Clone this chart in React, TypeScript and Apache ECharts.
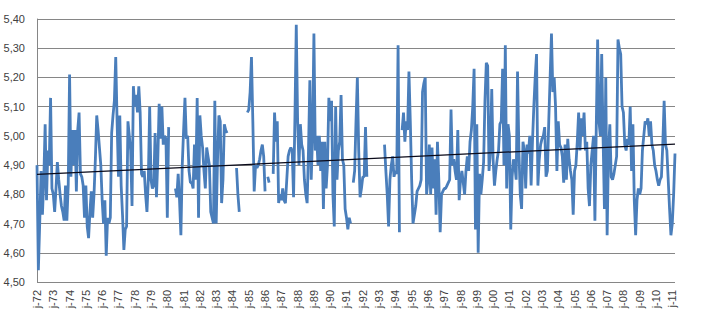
import React, { useEffect, useRef } from "react";
import * as echarts from "echarts";

const years = [72, 73, 74, 75, 76, 77, 78, 79, 80, 81, 82, 83, 84, 85, 86, 87, 88, 89, 90, 91, 92, 93, 94, 95, 96, 97, 98, 99, 0, 1, 2, 3, 4, 5, 6, 7, 8, 9, 10, 11];
const monthLetters = ["j", "f", "m", "a", "m", "j", "j", "a", "s", "o", "n", "d"];

// Monthly values, Jan 1972 - Mar 2011 (null = missing)
const values1972to1979 = [
  4.90, 4.54, 4.70, 4.88, 4.73, 4.85, 5.04, 4.78, 4.95, 4.90, 5.13, 4.82,
  4.80, 4.74, 4.82, 4.91, 4.85, 4.80, 4.76, 4.74, 4.71, 4.83, 4.71, 4.83,
  5.21, 4.86, 5.02, 4.90, 5.02, 4.81, 5.02, 5.08, 4.87, 4.86, 4.83, 4.72,
  4.83, 4.69, 4.65, 4.74, 4.81, 4.72, 4.80, 4.92, 5.07, 5.02, 4.96, 4.90,
  4.78, 4.70, 4.78, 4.59, 4.72, 4.70, 4.72, 5.01, 5.07, 5.12, 5.27, 5.05,
  4.86, 5.07, 4.83, 4.73, 4.61, 4.68, 4.69, 5.05, 5.00, 4.95, 4.76, 5.17,
  5.10, 5.14, 5.08, 5.17, 5.08, 4.87, 4.86, 4.88, 4.80, 4.74, 4.85, 5.10,
  4.85, 4.82, 4.83, 5.01, 4.79, 4.92, 5.11, 4.99, 5.10, 4.97, 5.00, 4.99,
];
const values1980to1989 = [
  4.72, 5.03, null, null, null, null, 4.82, 4.79, 4.87, 4.78, 4.66, 4.90,
  5.02, 5.13, 4.99, 5.00, 4.88, 4.84, 4.84, 4.82, 4.97, 4.85, 5.13, 4.72,
  5.07, 5.00, 4.96, 4.88, 4.82, 4.96, 4.93, 4.90, 4.74, 4.72, 4.70, 5.12,
  4.70, 4.92, 5.07, 5.05, 4.77, 4.85, 5.04, 5.02, 5.01, null, null, null,
  null, null, null, 4.89, 4.80, 4.74, null, null, null, null, null, 5.08,
  5.09, 5.15, 5.27, 5.05, 4.81, 4.90, 4.89, 4.90, 4.92, 4.95, 4.97, 4.93,
  4.81, null, 4.86, 4.84, null, null, 4.87, 5.08, 4.98, 5.05, 4.77, 4.80,
  4.78, 4.82, 4.78, 4.77, 4.85, 4.93, 4.95, 4.96, 4.95, 4.79, 5.06, 5.38,
  5.05, 4.90, 5.04, 4.97, 4.95, 4.85, 4.80, 4.77, 4.95, 5.19, 4.85, 5.00,
  5.35, 4.95, 5.00, 4.90, 5.00, 4.88, 4.98, 4.75, 4.98, 4.82, 4.90, 5.13,
];
const values1990to1999 = [
  5.05, 5.12, 4.80, 4.69, 5.10, 4.85, 4.95, 4.98, 5.14, 4.92, 4.90, 4.75,
  4.72, 4.68, 4.72, 4.70, null, 4.84, 4.88, 5.05, 5.20, 4.95, 4.79, 4.82,
  4.86, 4.86, 5.03, 4.86, null, null, null, null, null, null, null, null,
  null, null, null, null, 4.97, 4.88, 4.80, 4.69, 4.85, 4.90, 4.93, 4.86,
  4.88, 4.87, 5.31, 4.67, null, 5.02, 5.08, 4.98, 5.05, 5.02, 5.22, 5.05,
  4.85, 4.70, 4.73, 4.76, 4.81, 4.82, 4.83, 4.85, 5.15, 5.18, 5.20, 4.80,
  4.85, 4.97, 4.80, 4.96, 4.82, 4.92, 4.73, 4.98, 4.85, 4.67, 4.80, 4.81,
  4.82, 4.82, 4.83, 4.84, 4.85, 5.09, 4.90, 4.92, 4.88, 4.85, 5.02, 4.78,
  4.85, 4.88, 4.84, 4.80, 4.88, 4.93, 4.88, 4.98, 5.02, 5.10, 5.23, 4.68,
  5.04, 4.60, 4.87, 4.80, 4.85, 4.91, 5.12, 5.25, 5.24, 4.88, 4.95, 5.16,
];
const values2000to2011 = [
  4.92, 4.83, 4.88, 4.92, 4.95, 5.04, 5.05, 5.23, 4.90, 5.31, 4.82, 5.04,
  5.00, 4.68, 4.86, 4.92, 4.90, 4.85, 5.22, 4.95, 4.80, 4.75, 4.98, 4.95,
  4.82, 4.97, 4.94, 5.00, 4.83, 4.98, 5.10, 5.20, 5.28, 4.83, 4.92, 4.97,
  4.99, 5.00, 5.03, 4.86, 4.88, 5.05, 5.20, 5.35, 5.15, 5.20, 5.10, 4.88,
  5.05, 4.97, 4.96, 4.93, 4.84, 4.97, 4.85, 4.99, 4.92, 4.88, 4.85, 4.73,
  4.88, 4.90, 4.98, 5.08, 4.95, 5.06, 5.00, 5.08, 4.95, 4.98, 4.82, 4.76,
  4.90, 4.95, 5.00, 4.71, 5.03, 5.33, 5.05, 5.00, 5.28, 5.00, 4.75, 5.20,
  4.66, 4.95, 5.04, 4.86, 4.85, 4.87, 4.90, 4.93, 5.33, 5.30, 5.28, 5.10,
  5.08, 4.97, 4.95, 4.99, 4.97, 5.10, 4.88, 5.04, 4.78, 4.66, 4.78, 4.82,
  4.80, 4.82, 4.95, 5.00, 5.05, 5.04, 5.06, 5.00, 5.05, 4.97, 4.95, 4.90,
  4.88, 4.85, 4.83, 4.85, 4.86, 4.97, 5.12, 4.97, 4.95, 4.85, 4.75, 4.66,
  4.70, 4.80, 4.94,
];

// Linear trend end points
const trendStart = 4.868;
const trendEnd = 4.972;

const yTicks = { min: 4.5, max: 5.4, interval: 0.1 };

export default function App() {
  const ref = useRef<HTMLDivElement>(null);
  useEffect(() => {
    if (!ref.current) return;
    const chart = echarts.init(ref.current, undefined, { renderer: "svg" });
    const values = [...values1972to1979, ...values1980to1989, ...values1990to1999, ...values2000to2011];
    const categories: string[] = [];
    for (let i = 0; i < values.length; i++) {
      const y = years[Math.floor(i / 12)];
      categories.push(monthLetters[i % 12] + "-" + String(y).padStart(2, "0"));
    }
    const trend = values.map((_, i) => (i === 0 ? trendStart : i === values.length - 1 ? trendEnd : null));
    const grey = "#868686";
    chart.setOption({
      animation: false,
      grid: { left: 37, right: 28, top: 19, bottom: 36, containLabel: false },
      xAxis: {
        type: "category",
        data: categories,
        boundaryGap: false,
        axisLine: { show: false },
        axisTick: { show: false },
        axisLabel: {
          interval: 11,
          rotate: 90,
          margin: 8,
          fontSize: 11,
          fontFamily: "Liberation Sans, Arial, sans-serif",
          color: "#404040",
        },
        splitLine: { show: false },
      },
      yAxis: {
        type: "value",
        min: yTicks.min,
        max: yTicks.max,
        interval: yTicks.interval,
        axisLine: { show: true, lineStyle: { color: grey, width: 1 } },
        axisTick: { show: false },
        axisLabel: {
          margin: 12,
          fontSize: 11,
          fontFamily: "Liberation Sans, Arial, sans-serif",
          color: "#404040",
          formatter: (v: number) => v.toFixed(2).replace(".", ","),
        },
        splitLine: { show: true, lineStyle: { color: grey, width: 1 } },
      },
      series: [
        {
          type: "line",
          data: values,
          showSymbol: false,
          symbol: "none",
          connectNulls: false,
          lineStyle: { color: "#4a7ebb", width: 2.8 },
          z: 2,
        },
        {
          type: "line",
          data: trend,
          connectNulls: true,
          showSymbol: false,
          symbol: "none",
          lineStyle: { color: "#0a0a1a", width: 1.2 },
          z: 3,
        },
      ],
    });
    return () => chart.dispose();
  }, []);
  return <div ref={ref} style={{ width: 703, height: 318, position: "absolute", left: 0, top: 0 }} />;
}
